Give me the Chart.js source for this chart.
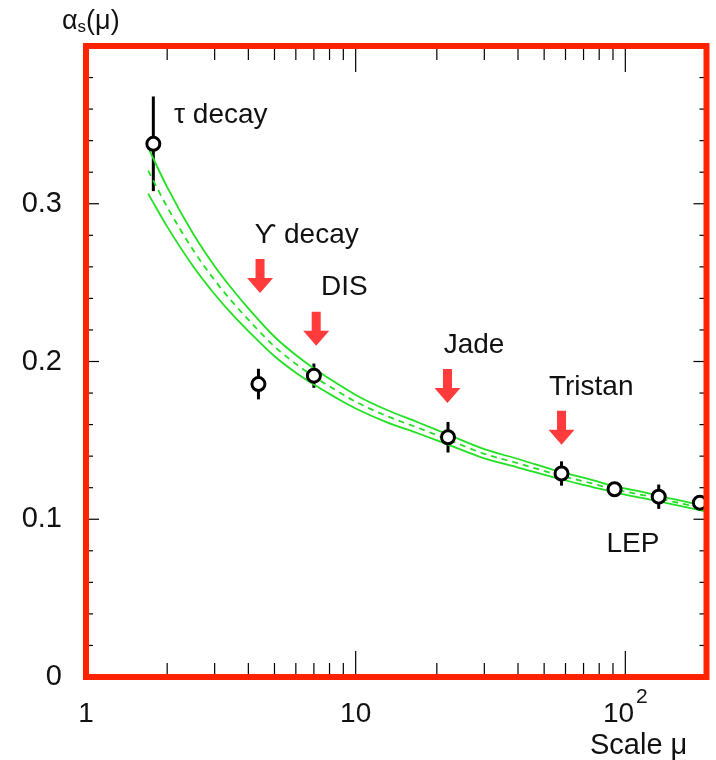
<!DOCTYPE html>
<html>
<head>
<meta charset="utf-8">
<script src="https://cdn.jsdelivr.net/npm/chart.js@4"></script>
<style>
html, body { margin: 0; padding: 0; background: #fff; }
canvas { display: block; }
</style>
</head>
<body>
<canvas id="alphaChart" width="716" height="760"></canvas>
<script>
// measured alpha_s values
const measMu    = [1.777, 4.36, 7.0, 22, 58, 91.2, 133, 189];
const measAlpha = [0.338, 0.1857, 0.191, 0.152, 0.129, 0.119, 0.1143, 0.1105];
const measErr   = [0.030, 0.0097, 0.0077, 0.0097, 0.0077, 0.003, 0.0077, 0.003];

// QCD band (upper / central / lower)
const bandMu    = [1.7, 2, 2.5, 3, 3.5, 4, 5, 6, 7, 8.5, 10, 13, 17, 22, 30, 40, 58, 75, 91, 120, 150, 200];
const bandUpper = [0.3356, 0.3105, 0.2808, 0.2604, 0.2455, 0.2337, 0.2157, 0.2041, 0.1956, 0.1862, 0.1788, 0.1694, 0.1615, 0.1537, 0.1444, 0.1382, 0.1298, 0.1250, 0.1210, 0.1167, 0.1129, 0.1081];
const bandMid   = [0.321, 0.298, 0.2705, 0.2515, 0.2375, 0.2265, 0.2095, 0.1985, 0.1905, 0.1815, 0.1745, 0.1655, 0.158, 0.1505, 0.1415, 0.1355, 0.1275, 0.1228, 0.119, 0.1148, 0.1112, 0.1065];
const bandLower = [0.3064, 0.2855, 0.2602, 0.2426, 0.2295, 0.2193, 0.2033, 0.1929, 0.1854, 0.1768, 0.1702, 0.1616, 0.1545, 0.1473, 0.1386, 0.1328, 0.1252, 0.1206, 0.1170, 0.1129, 0.1095, 0.1049];

// experiment labels and arrows
const labelText  = ['τ decay', 'ϒ decay', 'DIS', 'Jade', 'Tristan', 'LEP'];
const labelMu    = [2.12, 4.22, 7.44, 21.2, 52.1, 85.1];
const labelAlpha = [0.351, 0.275, 0.242, 0.2054, 0.1788, 0.0792];
const arrowMu    = [4.42, 7.14, 21.9, 58];
const arrowAlpha = [0.265, 0.2316, 0.1952, 0.1688];

// axis ticks
const xMajorTicks = [1, 10, 100];
const xTickLabels = ['1', '10', '10'];
const xTickSup    = ['', '', '2'];
const xMinorTicks = [2, 3, 4, 5, 6, 7, 8, 9, 20, 30, 40, 50, 60, 70, 80, 90, 200];
const yMajorTicks = [0, 0.1, 0.2, 0.3];
const yMinorTicks = [0.02, 0.04, 0.06, 0.08, 0.12, 0.14, 0.16, 0.18, 0.22, 0.24, 0.26, 0.28, 0.32, 0.34, 0.36, 0.38];

const green = '#22e022';
const frameRed = '#ff2200';
const arrowRed = '#ff3b3b';
const font = "'Liberation Sans', 'DejaVu Sans', Arial, sans-serif";
const textCol = '#111';

const framePlugin = {
  id: 'frame',
  beforeDatasetsDraw(chart) {
    const { ctx, scales: { x, y } } = chart;
    ctx.save();
    ctx.strokeStyle = '#000';
    ctx.lineWidth = 3;
    measMu.forEach((m, i) => {
      const px = x.getPixelForValue(m);
      ctx.beginPath();
      ctx.moveTo(px, y.getPixelForValue(measAlpha[i] + measErr[i]));
      ctx.lineTo(px, y.getPixelForValue(measAlpha[i] - measErr[i]));
      ctx.stroke();
    });
    ctx.restore();
  },
  afterDatasetsDraw(chart) {
    const { ctx, chartArea: a, scales: { x, y } } = chart;
    ctx.save();

    // arrows
    ctx.fillStyle = arrowRed;
    arrowMu.forEach((m, i) => {
      const cx = x.getPixelForValue(m), top = y.getPixelForValue(arrowAlpha[i]);
      ctx.beginPath();
      ctx.moveTo(cx - 4.5, top);
      ctx.lineTo(cx + 4.5, top);
      ctx.lineTo(cx + 4.5, top + 19);
      ctx.lineTo(cx + 13, top + 19);
      ctx.lineTo(cx, top + 34);
      ctx.lineTo(cx - 13, top + 19);
      ctx.lineTo(cx - 4.5, top + 19);
      ctx.closePath();
      ctx.fill();
    });

    // labels
    ctx.fillStyle = textCol;
    ctx.font = '28px ' + font;
    ctx.textAlign = 'left';
    ctx.textBaseline = 'alphabetic';
    labelText.forEach((t, i) => {
      ctx.fillText(t, x.getPixelForValue(labelMu[i]), y.getPixelForValue(labelAlpha[i]));
    });

    // inward ticks
    ctx.strokeStyle = '#000';
    ctx.lineWidth = 1.2;
    const tick = (x1, y1, x2, y2) => { ctx.beginPath(); ctx.moveTo(x1, y1); ctx.lineTo(x2, y2); ctx.stroke(); };
    yMajorTicks.concat(yMinorTicks).forEach(v => {
      const py = y.getPixelForValue(v);
      const len = yMajorTicks.includes(v) ? 13 : 7;
      tick(a.left, py, a.left + len, py);
      tick(a.right, py, a.right - len, py);
    });
    xMajorTicks.concat(xMinorTicks).forEach(v => {
      const px = x.getPixelForValue(v);
      const len = xMajorTicks.includes(v) ? 26 : 14;
      tick(px, a.bottom, px, a.bottom - len);
      tick(px, a.top, px, a.top + len);
    });

    // frame
    ctx.strokeStyle = frameRed;
    ctx.lineWidth = 6;
    ctx.strokeRect(a.left, a.top, a.right - a.left, a.bottom - a.top);

    // x tick labels
    ctx.fillStyle = textCol;
    ctx.textBaseline = 'alphabetic';
    xMajorTicks.forEach((v, i) => {
      const px = x.getPixelForValue(v);
      ctx.font = '28px ' + font;
      const w = ctx.measureText(xTickLabels[i]).width;
      let sw = 0;
      if (xTickSup[i]) {
        ctx.font = '21px ' + font;
        sw = ctx.measureText(xTickSup[i]).width + 2;
      }
      const left = px - (w + sw) / 2;
      ctx.font = '28px ' + font;
      ctx.textAlign = 'left';
      ctx.fillText(xTickLabels[i], left, 722);
      if (xTickSup[i]) {
        ctx.font = '21px ' + font;
        ctx.fillText(xTickSup[i], left + w + 2, 703);
      }
    });

    // axis titles
    ctx.font = '29px ' + font;
    ctx.fillText('Scale μ', 590, 754);
    ctx.font = '27px ' + font;
    ctx.fillText('α', 62, 29);
    const aw = ctx.measureText('α').width;
    ctx.font = '17px ' + font;
    ctx.fillText('s', 62 + aw, 32);
    const sw = ctx.measureText('s').width;
    ctx.font = '27px ' + font;
    ctx.fillText('(μ)', 62 + aw + sw, 29);

    ctx.restore();
  }
};

const points = measMu.map((m, i) => ({ x: m, y: measAlpha[i] }));
const curve = vals => bandMu.map((m, i) => ({ x: m, y: vals[i] }));

new Chart('alphaChart', {
  type: 'scatter',
  data: {
    datasets: [
      { label: 'data', data: points, pointRadius: 6.5, pointBorderWidth: 3, pointBorderColor: '#000', pointBackgroundColor: '#fff', order: 0 },
      { label: 'upper', data: curve(bandUpper), showLine: true, borderColor: green, borderWidth: 1.8, pointRadius: 0, cubicInterpolationMode: 'monotone', order: 1 },
      { label: 'central', data: curve(bandMid), showLine: true, borderColor: green, borderWidth: 1.8, borderDash: [6, 5], pointRadius: 0, cubicInterpolationMode: 'monotone', order: 1 },
      { label: 'lower', data: curve(bandLower), showLine: true, borderColor: green, borderWidth: 1.8, pointRadius: 0, cubicInterpolationMode: 'monotone', order: 1 }
    ]
  },
  options: {
    responsive: false,
    animation: false,
    layout: { padding: { top: 46, right: 4, left: 0, bottom: 0 } },
    plugins: { legend: { display: false }, tooltip: { enabled: false } },
    scales: {
      x: {
        type: 'logarithmic', min: 1, max: 200,
        grid: { display: false, drawTicks: false },
        border: { display: false },
        ticks: { display: false },
        afterFit: s => { s.height = 83; }
      },
      y: {
        min: 0, max: 0.4,
        grid: { display: false, drawTicks: false },
        border: { display: false },
        afterBuildTicks: s => { s.ticks = yMajorTicks.map(v => ({ value: v })); },
        ticks: {
          padding: 24,
          color: textCol,
          font: { family: font, size: 29 },
          callback: v => v === 0 ? '0' : v.toFixed(1)
        },
        afterFit: s => { s.width = 86; }
      }
    }
  },
  plugins: [framePlugin]
});
</script>
</body>
</html>
